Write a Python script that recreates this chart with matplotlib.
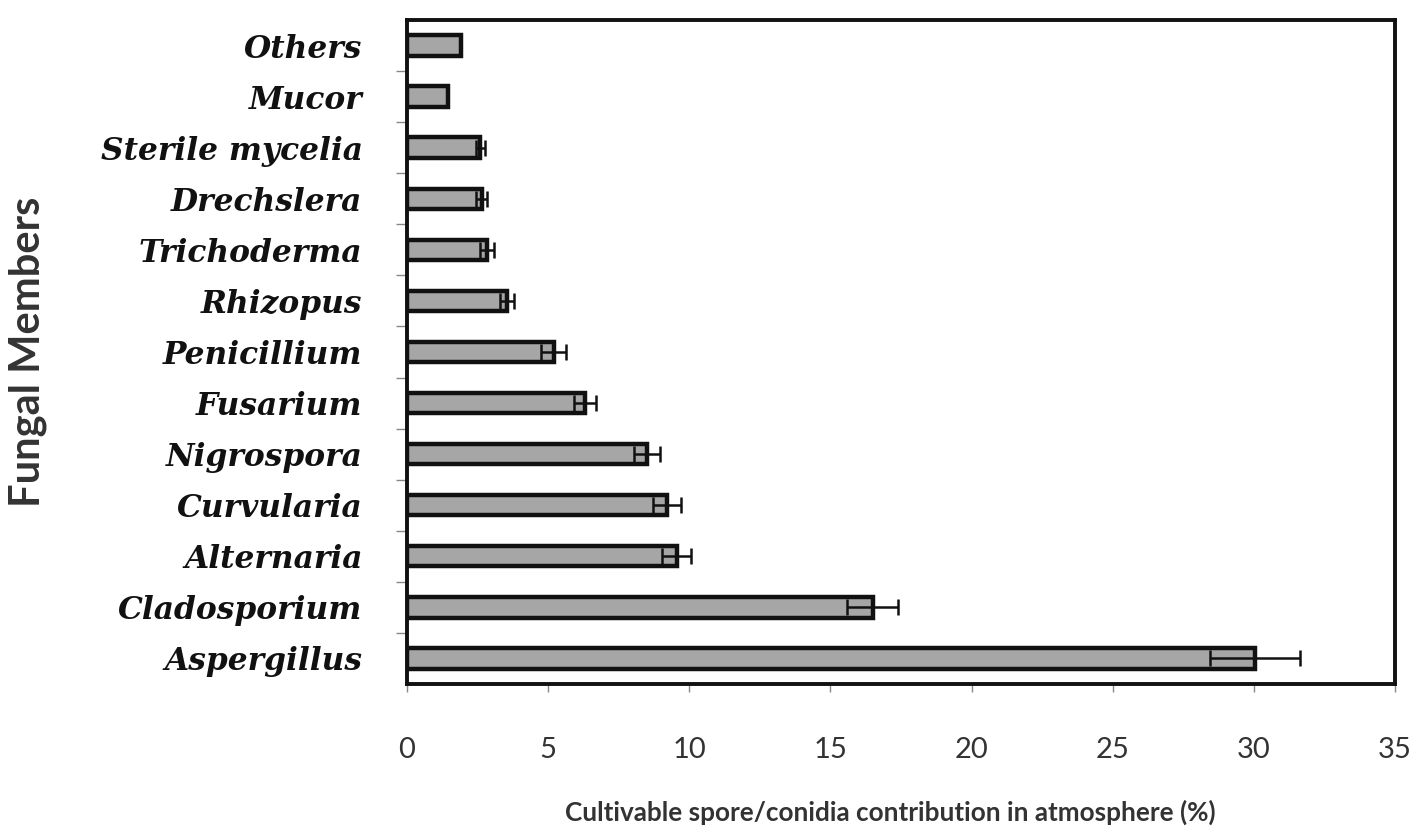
import matplotlib
matplotlib.use("Agg")
import matplotlib.pyplot as plt
import numpy as np

# datos (de abajo hacia arriba)
hongos = ['Aspergillus', 'Cladosporium', 'Alternaria', 'Curvularia', 'Nigrospora',
          'Fusarium', 'Penicillium', 'Rhizopus', 'Trichoderma', 'Drechslera',
          'Sterile mycelia', 'Mucor', 'Others']
porcentaje = [30.05, 16.5, 9.55, 9.2, 8.5, 6.3, 5.2, 3.55, 2.85, 2.65, 2.6, 1.45, 1.9]
error = [1.6, 0.9, 0.5, 0.5, 0.45, 0.4, 0.45, 0.25, 0.25, 0.2, 0.15, 0.0, 0.0]
ticks_x = [0, 5, 10, 15, 20, 25, 30, 35]

fig = plt.figure(figsize=(14.17, 8.34), dpi=100)
ax = fig.add_axes([0.2872, 0.1799, 0.6973, 0.7961])

pos = np.arange(len(hongos))
ax.barh(pos, porcentaje, height=0.4, color='#a6a6a6', edgecolor='#111111', linewidth=3.2, zorder=2)
ax.errorbar(porcentaje, pos, xerr=error, fmt='none', ecolor='#111111', elinewidth=1.8,
            capsize=6, capthick=1.8, zorder=3)

ax.set_xlim(0, 35)
ax.set_ylim(-0.5, len(hongos) - 0.5)
ax.set_xticks(ticks_x)
ax.set_xticklabels([str(t) for t in ticks_x], fontsize=21, color='#333333', family='Lato')
ax.tick_params(axis='x', length=6, width=1, color='#888888', pad=32)

ax.set_yticks(pos)
ax.set_yticklabels(hongos, fontsize=22.5, family='DejaVu Serif', fontweight='bold',
                   fontstyle='italic', color='#111111')
ax.tick_params(axis='y', which='major', length=0, pad=32)
ax.set_yticks(pos[:-1] + 0.5, minor=True)
ax.tick_params(axis='y', which='minor', length=8, width=1, color='#888888')

for s in ax.spines.values():
    s.set_linewidth(2.8)
    s.set_color('#111111')

ax.set_xlabel('Cultivable spore/conidia contribution in atmosphere (%)', fontsize=18.8,
              fontweight='bold', family='Lato', color='#333333', labelpad=28)
ax.xaxis.set_label_coords(0.489, -0.175)
ax.set_ylabel('Fungal Members', fontsize=30, fontweight='bold', family='Lato',
              color='#333333')
ax.yaxis.set_label_coords(-0.364, 0.5)

fig.savefig('out.png', dpi=100)
